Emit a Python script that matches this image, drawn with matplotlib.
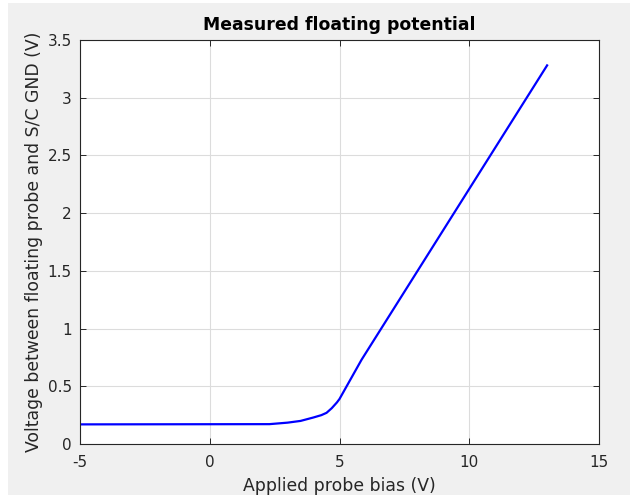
import numpy as np
import matplotlib.pyplot as plt
from matplotlib.patches import Rectangle

# applied bias (V) vs measured floating potential (V)
bias = [-5, 2.3, 3.0, 3.5, 4.0, 4.3, 4.5, 4.7, 4.9, 5.0, 5.3, 5.85, 13.0]
vfloat = [0.17, 0.172, 0.185, 0.2, 0.23, 0.25, 0.27, 0.31, 0.36, 0.39, 0.51, 0.73, 3.28]

xticks = [-5, 0, 5, 10, 15]
yticks = [0, 0.5, 1, 1.5, 2, 2.5, 3, 3.5]
ytick_labels = ['0', '0.5', '1', '1.5', '2', '2.5', '3', '3.5']

fig = plt.figure(figsize=(6.36, 4.95), dpi=100, facecolor='white')
# grey figure panel inside the screenshot border
fig.patches.append(Rectangle((8 / 636, 0), 622 / 636, 492 / 495,
                             transform=fig.transFigure, facecolor='#f0f0f0',
                             edgecolor='none', zorder=-10))

ax = fig.add_axes([80 / 636, 51 / 495, 519 / 636, 404 / 495])
ax.plot(bias, vfloat, color='#0000ff', lw=1.6)

ax.set_xlim(-5, 15)
ax.set_ylim(0, 3.5)
ax.set_xticks(xticks)
ax.set_xticklabels([str(t) for t in xticks])
ax.set_yticks(yticks)
ax.set_yticklabels(ytick_labels)
ax.grid(True, color='#dcdcdc', lw=0.8)
ax.set_axisbelow(True)
ax.tick_params(direction='in', top=True, right=True, length=4, width=0.7,
               colors='#262626', labelsize=11, pad=6)
ax.tick_params(axis='x', pad=8)
for s in ax.spines.values():
    s.set_color('#262626')
    s.set_linewidth(0.8)

ax.set_title('Measured floating potential', fontsize=12.4, fontweight='bold', pad=7)
ax.set_xlabel('Applied probe bias (V)', fontsize=12.4, color='#262626', labelpad=5)
ax.set_ylabel('Voltage between floating probe and S/C GND (V)', fontsize=12.4,
              color='#262626', labelpad=3)

fig.savefig('out.png', dpi=100, facecolor=fig.get_facecolor())
